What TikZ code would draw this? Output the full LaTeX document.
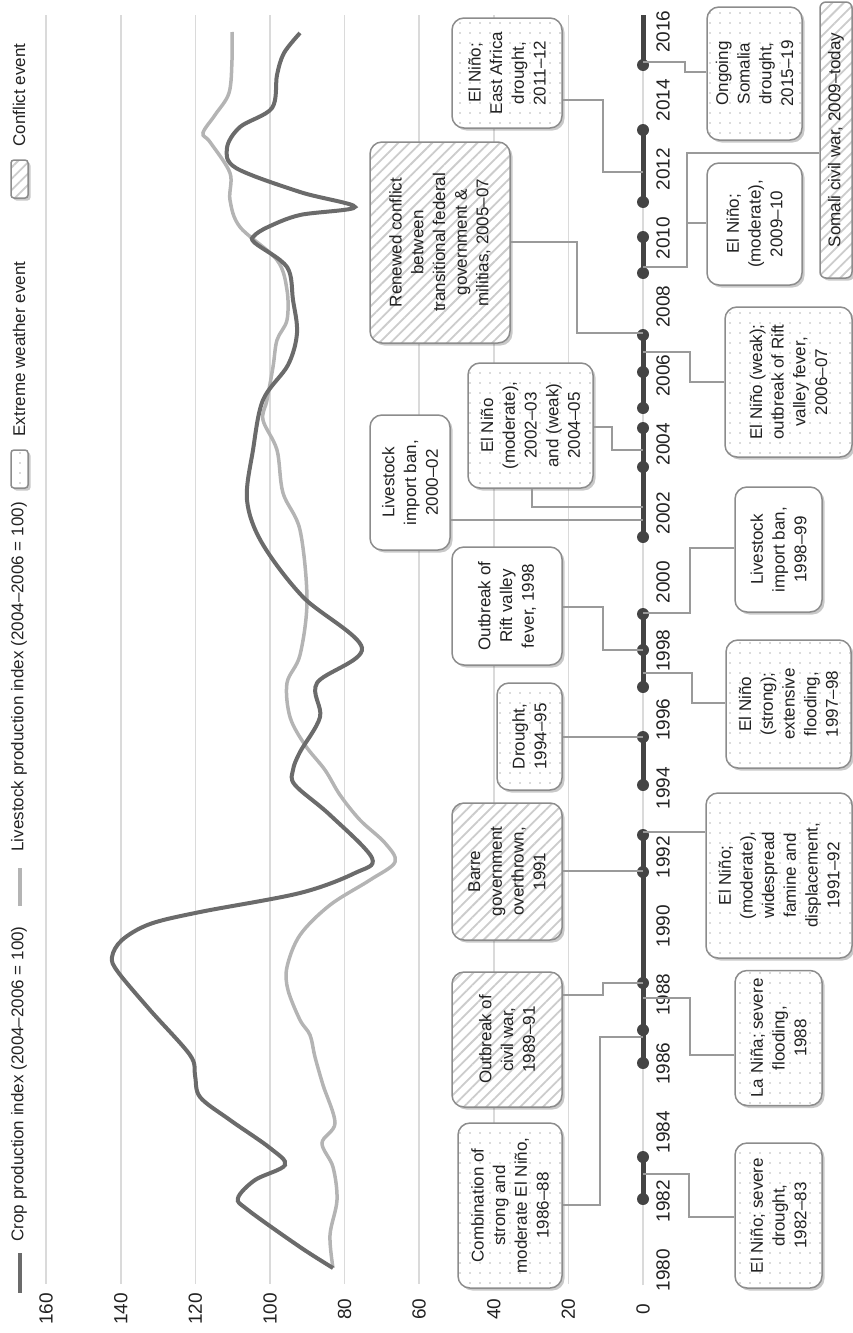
\documentclass[tikz,border=0pt]{standalone}
\usepackage{fontspec}
\setmainfont{Liberation Sans}
\usetikzlibrary{patterns.meta,shadows}

\definecolor{cropgray}{HTML}{6B6B6B}
\definecolor{stockgray}{HTML}{B4B4B4}
\definecolor{gridgray}{HTML}{DADADA}
\definecolor{linkgray}{HTML}{9A9A9A}
\definecolor{boxgray}{HTML}{8C8C8C}
\definecolor{segdark}{HTML}{444444}
\definecolor{txtgray}{HTML}{222222}

\tikzset{
  event/.style={draw=boxgray, line width=1.5pt, rounded corners=12pt, rotate=90,
    align=center, inner sep=2pt, text=txtgray,
    font=\fontsize{17}{21.7}\selectfont,
    drop shadow={shadow xshift=2.5pt, shadow yshift=-2.5pt, opacity=.3, fill=black!70},
    preaction={fill=white}},
  other/.style={event},
  weather/.style={event, pattern={Dots[radius=0.9pt, distance=10pt]}, pattern color=black!28},
  conflict/.style={event, pattern={Lines[angle=45, distance=8pt, line width=1.8pt]}, pattern color=black!20},
  link/.style={draw=linkgray, line width=1.5pt},
  gridline/.style={draw=gridgray, line width=1.5pt},
  seg/.style={draw=segdark, line width=5pt},
  yeardot/.style={fill=segdark},
  yearlabel/.style={rotate=90, text=txtgray, font=\fontsize{19}{22}\selectfont},
  legend/.style={rotate=90, anchor=west, text=txtgray, font=\fontsize{17}{20}\selectfont},
  crop/.style={draw=cropgray, line width=4pt},
  stock/.style={draw=stockgray, line width=3.5pt},
}

\begin{document}
\begin{tikzpicture}[x=1pt, y=-1pt]
\useasboundingbox (0,0) rectangle (853,1333);

% value grid and labels
\foreach \v in {20,40,...,160}
  \draw[gridline] ({643-3.73*\v},15) -- ({643-3.73*\v},1284);
\foreach \v in {0,20,...,160}
  \node[yearlabel] (v\v) at ({643-3.73*\v},1309) {\v};

% legend
\draw[crop] (20,1253) -- (20,1293);
\node[legend] (lcrop) at (19,1245) {Crop production index (2004–2006 = 100)};
\draw[stock] (20,868) -- (20,906);
\node[legend] (lstock) at (19,855) {Livestock production index (2004–2006 = 100)};
\node[weather, minimum width=38pt, minimum height=17pt, rounded corners=3pt, inner sep=0pt] (kweather) at (19.5,469) {};
\node[legend] (lweather) at (19,440) {Extreme weather event};
\node[conflict, minimum width=38pt, minimum height=17pt, rounded corners=3pt, inner sep=0pt] (kconflict) at (19.5,179) {};
\node[legend] (lconflict) at (19,150) {Conflict event};

% production curves
\draw[stock] plot[smooth, tension=0.55] coordinates {
  (333,1268) (330,1235) (337,1200) (333,1167) (322,1143) (335,1123) (323,1085)
  (315,1057) (310,1035) (300,1020) (288,990) (287,967) (300,935) (330,905)
  (370,880) (395,862) (385,843) (360,820) (340,795) (325,770) (305,745)
  (290,717) (287,683) (300,655) (307,600) (300,530) (283,493) (277,450)
  (263,420) (267,400) (273,367) (277,340) (287,320) (287,290) (277,260)
  (240,227) (230,200) (230,173) (210,142) (203,133) (215,115) (229,93)
  (232,60) (232,32)};
\draw[crop] plot[smooth, tension=0.55] coordinates {
  (333,1268) (300,1247) (248,1210) (238,1198) (255,1180) (285,1165) (270,1148)
  (230,1120) (200,1097) (195,1075) (190,1055) (150,1010) (118,972) (112,957)
  (122,940) (150,924) (200,912) (300,893) (355,873) (372,858) (330,815)
  (295,785) (293,770) (300,752) (320,717) (317,683) (362,648) (303,597)
  (262,543) (247,500) (253,450) (263,400) (288,365) (297,333) (293,300)
  (287,267) (255,243) (254,236) (268,227) (300,215) (355,207) (300,192)
  (236,168) (227,148) (240,127) (272,108) (277,75) (284,53) (300,33)};

% timeline
\draw[gridline] (643,1285) -- (643,15);
\foreach \yr in {1980,1982,...,2016}
  \node[yearlabel] (y\yr) at (663,{1270-34.4*(\yr-1980)}) {\yr};
\foreach \a/\b in {1199/1157, 1063/1030, 1030/983, 983/872, 872/835, 785/737,
                   687/650, 650/614, 537/467, 467/428, 408/372, 372/335,
                   273/237, 202/130, 65/15}
  \draw[seg] (643,\a) -- (643,\b);
\foreach \p in {1199,1157,1063,1030,983,872,835,785,737,687,650,614,
                537,467,428,408,372,335,273,237,202,130,65}
  \fill[yeardot] (643,\p) circle (6pt);

% axis ends of connectors
\coordinate (t8283) at (643,1174);
\coordinate (t8688) at (643,1037);
\coordinate (t8991) at (643,983);
\coordinate (t88)   at (643,998);
\coordinate (t91)   at (643,871);
\coordinate (t9192) at (643,832);
\coordinate (t9495) at (643,737);
\coordinate (t9798) at (643,673);
\coordinate (t98)   at (643,650);
\coordinate (t9899) at (643,613);
\coordinate (t0002) at (643,520);
\coordinate (t0203) at (643,507);
\coordinate (t0405) at (643,450);
\coordinate (t0607) at (643,352);
\coordinate (t0507) at (643,333);
\coordinate (t09)   at (643,267);
\coordinate (t1112) at (643,172);
\coordinate (t1519) at (643,62);

% events, left of the timeline
\node[weather, minimum width=165pt, minimum height=104pt] (e8688) at (510,1205.5) {Combination of\\strong and\\moderate El Niño,\\1986–88};
\node[conflict, minimum width=135pt, minimum height=110pt] (c8991) at (507,1039.5) {Outbreak of\\civil war,\\1989–91};
\node[conflict, minimum width=137pt, minimum height=110pt] (c91) at (507,871.5) {Barre\\government\\overthrown,\\1991};
\node[weather, minimum width=107pt, minimum height=65pt] (e9495) at (529.5,736.5) {Drought,\\1994–95};
\node[other, minimum width=118pt, minimum height=110pt] (o98) at (507,606) {Outbreak of\\Rift valley\\fever, 1998};
\node[other, minimum width=135pt, minimum height=80pt] (o0002) at (410,482.5) {Livestock\\import ban,\\2000–02};
\node[weather, minimum width=125pt, minimum height=125pt] (e0205) at (530.5,425.5) {El Niño\\(moderate),\\2002–03\\and (weak)\\2004–05};
\node[conflict, minimum width=201pt, minimum height=140pt] (c0507) at (440,242.5) {Renewed conflict\\between\\transitional federal\\government \&\\militias, 2005–07};
\node[weather, minimum width=110pt, minimum height=110pt] (e1112) at (507,73) {El Niño;\\East Africa\\drought,\\2011–12};

% events, right of the timeline
\node[weather, minimum width=145pt, minimum height=87pt] (e8283) at (778.5,1215.5) {El Niño; severe\\drought,\\1982–83};
\node[weather, minimum width=135pt, minimum height=87pt] (e88) at (778.5,1038) {La Niña; severe\\flooding,\\1988};
\node[weather, minimum width=165pt, minimum height=146pt] (e9192) at (779,875.5) {El Niño;\\(moderate),\\widespread\\famine and\\displacement,\\1991–92};
\node[weather, minimum width=128pt, minimum height=125pt] (e9798) at (788.5,704) {El Niño\\(strong);\\extensive\\flooding,\\1997–98};
\node[other, minimum width=125pt, minimum height=87pt] (o9899) at (778.5,549.5) {Livestock\\import ban,\\1998–99};
\node[weather, minimum width=150pt, minimum height=127pt] (e0607) at (788.5,382) {El Niño (weak);\\outbreak of Rift\\valley fever,\\2006–07};
\node[other, minimum width=122pt, minimum height=95pt] (o0910) at (754.5,224) {El Niño;\\(moderate),\\2009–10};
\node[weather, minimum width=133pt, minimum height=95pt] (e1519) at (754.5,73.5) {Ongoing\\Somalia\\drought,\\2015–19};
\node[conflict, minimum width=276pt, minimum height=32pt, rounded corners=6pt, inner sep=0pt] (c09) at (836,140) {Somali civil war, 2009–today};

% connectors
\draw[link] (e8283.north |- 0,1217) -| (689,1174) -- (t8283);
\draw[link] (e8688.south |- 0,1205) -| (600,1037) -- (t8688);
\draw[link] (c8991.south |- 0,995) -| (603,983) -- (t8991);
\draw[link] (e88.north |- 0,1055) -| (690,998) -- (t88);
\draw[link] (c91.south |- 0,871) -- (t91);
\draw[link] (e9192.north |- 0,832) -- (t9192);
\draw[link] (e9495.south |- 0,737) -- (t9495);
\draw[link] (e9798.north |- 0,703) -| (692,673) -- (t9798);
\draw[link] (o98.south |- 0,607) -| (603,650) -- (t98);
\draw[link] (o9899.north |- 0,548) -| (690,613) -- (t9899);
\draw[link] (o0002.south |- 0,520) -- (t0002);
\draw[link] (e0205.west -| 532,0) |- (t0203);
\draw[link] (e0205.south |- 0,427) -| (612,450) -- (t0405);
\draw[link] (e0607.north |- 0,382) -| (690,352) -- (t0607);
\draw[link] (c0507.south |- 0,242) -| (577,333) -- (t0507);
\draw[link] (o0910.north |- 0,223) -- (687,223);
\draw[link] (c09.north |- 0,153) -| (687,267) -- (t09);
\draw[link] (e1112.south |- 0,100) -| (603,172) -- (t1112);
\draw[link] (e1519.north |- 0,72) -| (685,62) -- (t1519);
\end{tikzpicture}
\end{document}
